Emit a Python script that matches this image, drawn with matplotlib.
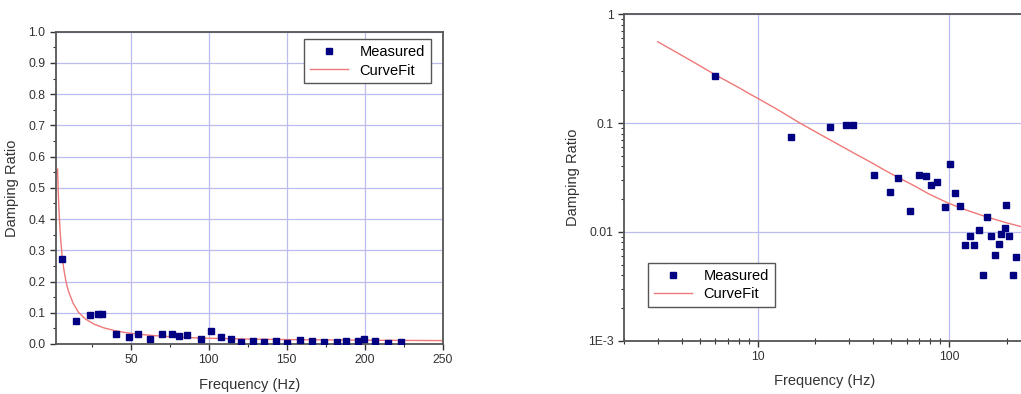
import math
import matplotlib
matplotlib.use("Agg")
import matplotlib.pyplot as plt
from matplotlib.ticker import (FixedLocator, FixedFormatter, MultipleLocator,
                               LogLocator, NullFormatter, FormatStrFormatter)

plt.rcParams['font.family'] = ['Liberation Sans', 'DejaVu Sans']

freq = [6.0, 15.0, 24.0, 29.1, 31.4, 40.7, 49.0, 54.4, 62.6, 69.8, 76.2, 80.9,
        86.2, 95.0, 101.5, 107.6, 114.0, 120.8, 128.3, 135.7, 142.9, 150.0,
        158.5, 166.0, 174.0, 182.0, 188.0, 195.5, 199.5, 206.5, 215.0, 223.0]
damping = [0.271, 0.074, 0.0927, 0.0955, 0.0955, 0.0333, 0.0231, 0.0313, 0.0156,
           0.0336, 0.0327, 0.0268, 0.029, 0.0169, 0.0424, 0.0229, 0.0173, 0.0076,
           0.0091, 0.0076, 0.0105, 0.0040, 0.0137, 0.0092, 0.0061, 0.0077, 0.0096,
           0.0109, 0.0176, 0.0092, 0.0040, 0.0059]

# Curve fit
fit_freq = [3, 3.5, 4, 4.5, 5, 6, 7, 8, 9, 10, 13, 16.5, 21, 26.7, 33, 39.9, 46,
            53.9, 64.6, 78.6, 98, 122.6, 156, 198.6, 233, 250]
fit_damp = [0.56, 0.48, 0.42, 0.373, 0.335, 0.278, 0.24, 0.211, 0.187, 0.169,
            0.13, 0.1008, 0.0795, 0.0629, 0.0512, 0.0427, 0.037, 0.0318, 0.027,
            0.0223, 0.01855, 0.0159, 0.0138, 0.01216, 0.0113, 0.0109]

W, H = 1021, 394
fig = plt.figure(figsize=(W / 100, H / 100), dpi=100)

spine_col = '#555555'
grid_col = '#bcbcf0'
mark_col = '#000080'
line_col = '#f07878'


def style(ax):
    for s in ax.spines.values():
        s.set_color(spine_col)
        s.set_linewidth(1.3)
    ax.grid(True, which='major', color=grid_col, linewidth=0.9)
    ax.set_axisbelow(True)
    ax.tick_params(which='both', colors='#333333', labelcolor='#333333', labelsize=8.8)
    ax.tick_params(which='major', length=4, width=1.0, direction='out')
    ax.tick_params(which='minor', length=2.5, width=0.8, direction='out')


# Left: linear
ax1 = fig.add_axes([56 / W, (H - 344) / H, (442.7 - 56) / W, (344 - 31.7) / H])
style(ax1)
ax1.plot(fit_freq, fit_damp, color=line_col, lw=1.0, label='CurveFit', zorder=2)
ax1.plot(freq, damping, 's', color=mark_col, ms=4.5, label='Measured', zorder=3)
ax1.set_xlim(2, 250)
ax1.set_ylim(0, 1.0)
ax1.xaxis.set_major_locator(FixedLocator([50, 100, 150, 200, 250]))
ax1.xaxis.set_minor_locator(FixedLocator([25, 75, 125, 175, 225]))
ax1.yaxis.set_major_locator(MultipleLocator(0.1))
ax1.yaxis.set_minor_locator(MultipleLocator(0.05))
ax1.yaxis.set_major_formatter(FormatStrFormatter('%.1f'))
ax1.set_xlabel('Frequency (Hz)', fontsize=10.5, color='#333333', labelpad=8)
ax1.set_ylabel('Damping Ratio', fontsize=10.5, color='#333333', labelpad=7)
h, l = ax1.get_legend_handles_labels()
leg1 = ax1.legend([h[1], h[0]], [l[1], l[0]], loc='upper right',
                  bbox_to_anchor=((430.7 - 56) / 386.7, (344 - 39.3) / 312.3),
                  borderaxespad=0, fancybox=False, framealpha=1, edgecolor=spine_col,
                  fontsize=10.5, handlelength=2.6, labelspacing=0.3, borderpad=0.4)
leg1.get_frame().set_linewidth(1.0)

# Right: log-log
xl, xr = 2, 250
width_px = math.log10(xr / xl) * 191.3
ax2 = fig.add_axes([624 / W, (H - 340.7) / H, width_px / W, (340.7 - 14.3) / H])
style(ax2)
ax2.set_xscale('log')
ax2.set_yscale('log')
ax2.plot(fit_freq, fit_damp, color=line_col, lw=1.0, label='CurveFit', zorder=2)
ax2.plot(freq, damping, 's', color=mark_col, ms=4.5, label='Measured', zorder=3)
ax2.set_xlim(xl, xr)
ax2.set_ylim(1e-3, 1)
ax2.yaxis.set_major_locator(FixedLocator([1e-3, 1e-2, 1e-1, 1]))
ax2.yaxis.set_major_formatter(FixedFormatter(['1E-3', '0.01', '0.1', '1']))
ax2.yaxis.set_minor_locator(LogLocator(base=10, subs=range(2, 10), numticks=20))
ax2.yaxis.set_minor_formatter(NullFormatter())
ax2.xaxis.set_major_locator(FixedLocator([10, 100]))
ax2.xaxis.set_major_formatter(FixedFormatter(['10', '100']))
ax2.xaxis.set_minor_locator(LogLocator(base=10, subs=range(2, 10), numticks=20))
ax2.xaxis.set_minor_formatter(NullFormatter())
ax2.tick_params(axis='x', which='minor', direction='inout', length=4)
ax2.set_xlabel('Frequency (Hz)', fontsize=10.5, color='#333333', labelpad=8)
ax2.set_ylabel('Damping Ratio', fontsize=10.5, color='#333333', labelpad=6)
h, l = ax2.get_legend_handles_labels()
leg2 = ax2.legend([h[1], h[0]], [l[1], l[0]], loc='lower left',
                  bbox_to_anchor=((648.3 - 624) / width_px, (340.7 - 307.3) / 326.4),
                  borderaxespad=0, fancybox=False, framealpha=1, edgecolor=spine_col,
                  fontsize=10.5, handlelength=2.6, labelspacing=0.3, borderpad=0.4)
leg2.get_frame().set_linewidth(1.0)

fig.savefig('out.png', dpi=100)
